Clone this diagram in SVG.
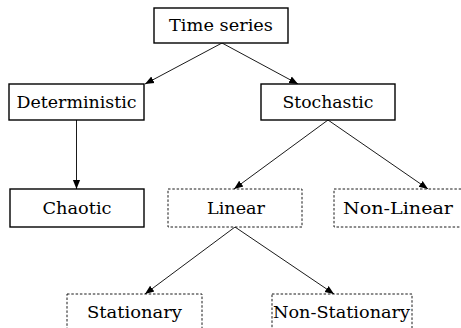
<svg xmlns="http://www.w3.org/2000/svg" width="461" height="328" viewBox="0 0 461 328">
<style>
.solid{fill:#fff;stroke:#000;stroke-width:1.4}
.dash{fill:#fff;stroke:#000;stroke-width:0.9;stroke-dasharray:2.5 1.8}
.lbl{font-family:'DejaVu Serif','Liberation Serif',serif;font-size:17px;fill:#000;text-anchor:middle}
.edge{stroke:#000;stroke-width:0.9;fill:none;marker-end:url(#arr)}
</style>
<defs>
<marker id="arr" viewBox="0 0 10 10" refX="10" refY="5" markerWidth="9" markerHeight="9" markerUnits="userSpaceOnUse" orient="auto">
<path d="M0,1 L10,5 L0,9 Z" fill="#000"/>
</marker>
</defs>
<g id="edges">
<line class="edge" x1="222" y1="43" x2="145" y2="84"/>
<line class="edge" x1="222" y1="43" x2="298" y2="84"/>
<line class="edge" x1="76.5" y1="120" x2="76.5" y2="189"/>
<line class="edge" x1="328" y1="120" x2="234" y2="189"/>
<line class="edge" x1="328" y1="120" x2="428" y2="189"/>
<line class="edge" x1="235" y1="227" x2="145" y2="294"/>
<line class="edge" x1="235" y1="227" x2="334" y2="294"/>
</g>
<g id="timeseries">
<rect class="solid" x="154" y="8" width="134" height="35"/>
<text class="lbl" x="221" y="31" textLength="104" lengthAdjust="spacingAndGlyphs">Time series</text>
</g>
<g id="deterministic">
<rect class="solid" x="9" y="84" width="135" height="36"/>
<text class="lbl" x="76.5" y="108" textLength="120" lengthAdjust="spacingAndGlyphs">Deterministic</text>
</g>
<g id="stochastic">
<rect class="solid" x="261" y="84" width="134" height="36"/>
<text class="lbl" x="328" y="108" textLength="91" lengthAdjust="spacingAndGlyphs">Stochastic</text>
</g>
<g id="chaotic">
<rect class="solid" x="10" y="189" width="134" height="38"/>
<text class="lbl" x="77" y="214" textLength="69" lengthAdjust="spacingAndGlyphs">Chaotic</text>
</g>
<g id="linear">
<rect class="dash" x="168" y="189" width="134" height="38"/>
<text class="lbl" x="236" y="214" textLength="58" lengthAdjust="spacingAndGlyphs">Linear</text>
</g>
<g id="nonlinear">
<rect class="dash" x="334" y="189" width="134" height="38"/>
<text class="lbl" x="398" y="214" textLength="110" lengthAdjust="spacingAndGlyphs">Non-Linear</text>
</g>
<g id="stationary">
<rect class="dash" x="67" y="294" width="135" height="40"/>
<text class="lbl" x="134.5" y="318" textLength="95" lengthAdjust="spacingAndGlyphs">Stationary</text>
</g>
<g id="nonstationary">
<rect class="dash" x="272" y="294" width="140" height="40"/>
<text class="lbl" x="341.5" y="318" textLength="137" lengthAdjust="spacingAndGlyphs">Non-Stationary</text>
</g>
</svg>
